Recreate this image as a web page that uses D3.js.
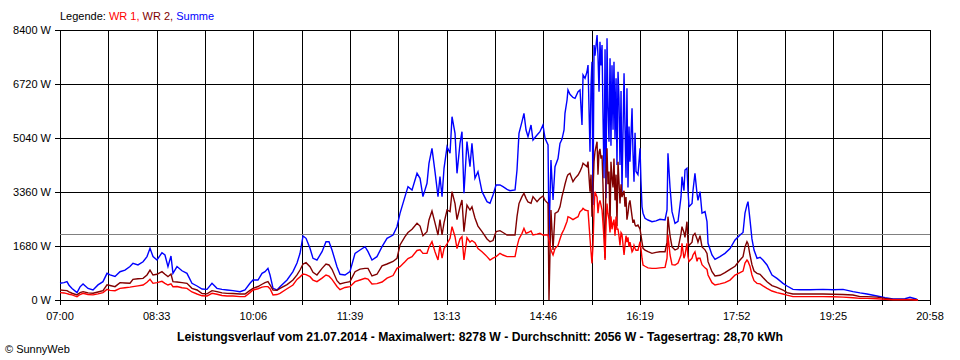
<!DOCTYPE html>
<html>
<head>
<meta charset="utf-8">
<script src="https://cdn.jsdelivr.net/npm/d3@7"></script>
<style>
  html, body { margin: 0; padding: 0; background: #fff; }
  svg { display: block; font-family: "Liberation Sans", Arial, sans-serif; }
</style>
</head>
<body>
<script>
// ---- data (time in minutes after midnight, power in W) ----
const times = [
420.0,423.9,426.7,428.7,431.6,436.4,439.3,442.2,447.0,451.8,456.6,461.4,465.3,468.2,473.0,477.8,482.6,487.4,490.3,495.1,
500.0,503.8,506.7,509.6,513.4,518.2,521.1,524.0,526.9,528.8,532.7,537.5,542.3,547.1,552.0,556.8,561.6,566.4,571.2,576.0,
580.9,586.6,593.4,598.2,603.0,605.9,610.7,614.6,617.5,620.3,622.3,625.2,629.0,631.9,638.7,644.4,648.3,651.2,654.1,657.0,
660.8,663.7,667.5,672.4,676.2,679.1,682.0,686.8,689.7,694.5,699.3,704.2,709.0,713.8,716.7,720.5,725.3,730.2,735.0,740.8,
744.6,747.5,752.3,755.2,759.1,763.9,766.8,769.6,773.5,775.4,778.3,781.2,784.1,786.0,788.0,789.9,792.8,795.7,797.6,800.5,
802.4,805.3,807.2,809.1,812.0,814.9,816.8,819.7,822.6,826.5,831.3,834.2,837.1,840.0,843.8,846.7,850.6,853.4,858.3,860.2,
862.1,865.0,866.9,868.9,870.8,873.7,875.6,879.5,882.3,885.2,887.2,890.1,891.0,892.9,894.9,896.8,899.7,901.6,903.5,905.5,
906.4,908.4,909.3,911.2,914.1,916.1,919.0,920.9,922.8,923.8,925.7,927.6,928.6,930.5,931.5,932.4,933.4,934.4,935.3,937.3,
938.2,939.2,940.1,941.1,942.1,943.0,944.0,945.0,945.9,946.9,947.8,948.8,949.8,950.7,951.7,952.7,953.6,954.6,955.6,956.5,
957.5,958.4,959.4,960.4,961.3,963.3,964.2,965.2,966.1,967.1,968.1,969.0,971.0,971.9,972.9,973.9,974.8,976.7,978.7,979.6,
980.6,981.6,983.5,986.4,990.2,994.1,997.9,1002.8,1004.7,1005.6,1007.6,1009.5,1012.4,1015.3,1018.2,1019.1,1021.0,1022.0,1023.9,1024.9,
1025.9,1028.8,1029.7,1031.6,1033.6,1034.5,1036.5,1038.4,1041.3,1043.2,1044.2,1048.0,1050.9,1055.7,1060.5,1065.4,1070.2,1075.0,1077.9,1079.8,
1081.7,1082.7,1084.6,1086.5,1088.5,1091.4,1094.3,1097.1,1101.0,1105.8,1110.6,1116.4,1120.3,1126.0,1132.8,1142.4,1154.9,1164.6,1174.2,1183.8,
1190.6,1197.3,1207.0,1214.7,1222.4,1233.9,1238.7,1244.5,1246.4
];

const summe = [
520,540,570,460,360,230,410,500,360,310,470,570,830,780,730,880,930,1040,1140,1090,
1190,1350,1610,1350,1244,1470,1400,1040,1370,830,1040,910,830,520,436,340,330,519,363,330,
311,290,259,311,519,622,622,830,882,985,778,363,311,415,622,882,1150,1452,1991,1919,
1607,1296,1244,1503,1814,1814,1555,1037,800,778,882,1452,1555,1659,1503,1244,1348,1659,1918,2022,
2281,2696,3215,3526,3422,3941,3786,3215,3630,4252,4719,3993,3215,3837,3215,4097,4770,4563,5703,5185,
3941,4874,5237,3319,4926,4148,4874,3786,3993,3370,3059,3008,3267,3578,3578,3526,3441,3400,3422,4044,
5185,5548,5808,5289,5081,5444,4978,5133,5237,5444,5030,4822,1860,4356,3111,4148,4400,4874,5000,5289,
5808,6222,6533,6400,6300,6274,6481,6533,5444,7000,6896,7100,7311,4615,6700,7415,2956,7933,7600,8244,
7600,6481,8037,7300,7933,5800,3785,7800,3163,8141,6000,4926,7519,4800,7300,5300,7415,5000,6900,4200,
7100,6300,4200,6500,3370,7052,5400,3800,6585,3500,5400,4300,5963,4600,3681,5200,4000,3900,4718,3700,
2900,2700,2541,2489,2437,2460,2510,2489,2800,4563,3500,2748,2385,2450,3215,3837,3400,4044,4100,3400,
2903,3000,3400,3941,3300,3100,3370,2700,2750,2437,1763,1400,1266,1350,1452,1600,1866,2022,2100,2700,
2960,3059,2500,1900,1555,1296,1327,1244,1089,778,674,519,436,332,320,320,332,320,332,259,
220,187,124,70,31,40,83,31,0
];

const wr2 = [
310,300,290,250,210,160,230,260,220,210,250,290,470,450,415,540,530,520,640,660,
674,780,930,778,800,882,800,726,809,570,560,540,519,363,311,200,190,290,260,220,
207,200,187,187,300,363,420,490,540,570,467,311,300,363,480,622,780,933,1120,1161,
1037,860,778,985,1120,1090,954,600,500,540,570,882,960,985,985,747,800,1060,1120,1200,
1296,1711,1970,2100,2200,2385,2300,2000,2126,2490,2769,2400,2022,2500,2022,2400,2800,2750,3370,3000,
2500,2900,3111,2126,2950,2800,2900,2550,2300,2126,1900,1814,1850,2126,2157,2100,2022,2022,2022,2592,
3000,3215,3319,3163,3050,3008,3215,3060,3163,3235,3100,3000,0,2800,1555,2696,2750,2900,3215,3474,
3600,3837,3900,3941,3681,3785,3889,4000,4148,4252,4200,4150,4304,3370,3900,2592,3370,4300,4615,4926,
3900,4600,4700,4400,4500,3600,2333,1296,3900,4719,3600,4000,2300,4300,3800,3500,4400,3100,3900,2300,
4300,3700,3000,3600,3200,3400,2900,3200,2500,2700,3000,3100,2600,2400,2500,2333,2300,2333,2200,2022,
1800,1607,1550,1503,1452,1480,1500,1503,1800,2592,2000,1650,1555,1600,2074,2281,2100,1950,2437,1800,
1700,1800,2000,2074,1900,1800,2000,1650,1560,1450,1192,882,747,770,850,950,1050,1244,1350,1650,
1814,1750,1400,1100,900,830,800,700,570,450,390,311,228,187,187,187,187,180,170,156,
104,104,90,50,21,20,20,10,0
];

const wr1 = [
230,220,200,180,160,100,170,210,170,160,190,230,330,300,290,360,380,400,415,440,
467,550,643,519,540,581,520,467,500,415,420,380,363,250,187,130,124,207,180,140,
124,124,104,104,230,311,350,400,415,415,350,156,170,207,350,467,640,720,809,790,
726,620,570,680,778,740,643,420,320,390,415,570,622,674,650,498,510,560,680,760,
985,1037,1192,1290,1350,1540,1560,1452,1452,1640,1814,1500,1244,1700,1300,1600,1750,1918,2281,1970,
1600,1900,1970,1244,1940,1800,1850,1780,1600,1503,1350,1244,1300,1348,1452,1400,1348,1348,1348,1659,
1900,2074,2230,2074,2100,2150,2022,2050,2074,2022,2022,2022,1866,1555,1400,1600,1700,1900,2074,2200,
2281,2450,2592,2560,2500,2541,2592,2750,2800,2850,2800,2780,2780,1918,1503,1141,1700,2800,3370,3200,
2700,3000,3100,2950,2800,2400,1900,1244,2300,3000,2700,2500,2100,2600,2200,2400,2500,2000,2600,2200,
2200,2000,1700,2100,2050,1400,1700,2000,1800,1950,1650,1800,1500,1550,1700,1600,1550,1550,1814,1600,
1300,1089,1050,1000,985,985,1000,1016,1300,2022,1400,1100,1089,1150,1400,1763,1300,1400,1763,1350,
1200,1300,1400,1500,1200,1300,1300,1100,1000,950,778,539,467,500,540,620,778,850,900,1150,
1244,1200,1050,780,600,519,500,440,363,280,230,187,150,104,104,104,104,100,90,70,
52,52,40,20,10,10,10,0,0
];

const xTickLabels = ["07:00","08:33","10:06","11:39","13:13","14:46","16:19","17:52","19:25","20:58"];
const yTicks = [0, 1680, 3360, 5040, 6720, 8400];
const avgValue = 2056;
const legendParts = [
  {text: "Legende: ", color: "#000000"},
  {text: "WR 1, ", color: "#ff0000"},
  {text: "WR 2, ", color: "#800000"},
  {text: "Summe", color: "#0000ff"}
];
const titleText = "Leistungsverlauf vom 21.07.2014 - Maximalwert: 8278 W - Durchschnitt: 2056 W - Tagesertrag: 28,70 kWh";
const creditText = "\u00A9 SunnyWeb";

// ---- chart ----
const W = 960, H = 360;
const plotLeft = 60, plotRight = 930, plotTop = 30, plotBottom = 300;
const tStart = 420, tEnd = 1258;

const svg = d3.select("body").append("svg").attr("width", W).attr("height", H);
svg.append("rect").attr("width", W).attr("height", H).attr("fill", "#fff");

const x = d3.scaleLinear().domain([tStart, tEnd]).range([plotLeft, plotRight]);
const y = d3.scaleLinear().domain([0, 8400]).range([plotBottom, plotTop]);
const snap = v => Math.round(v) + 0.5;

const grid = svg.append("g").attr("stroke", "#000").attr("stroke-width", 1).attr("shape-rendering", "crispEdges");
yTicks.forEach(v => {
  grid.append("line").attr("x1", plotLeft - 5).attr("x2", plotRight + 0.5)
    .attr("y1", snap(y(v))).attr("y2", snap(y(v)));
});
const nDiv = (xTickLabels.length - 1) * 2;
d3.range(nDiv + 1).forEach(i => {
  const t = tStart + i * (tEnd - tStart) / nDiv;
  grid.append("line").attr("x1", snap(x(t))).attr("x2", snap(x(t)))
    .attr("y1", plotTop).attr("y2", plotBottom + 5);
});

svg.append("g").selectAll("text").data(yTicks).join("text")
  .attr("x", 51).attr("y", d => y(d) + 4)
  .attr("text-anchor", "end").attr("font-size", 11).attr("fill", "#000")
  .text(d => d + " W");

svg.append("g").selectAll("text").data(xTickLabels).join("text")
  .attr("x", (d, i) => x(tStart + i * (tEnd - tStart) / (xTickLabels.length - 1)))
  .attr("y", 320)
  .attr("text-anchor", "middle").attr("font-size", 11).attr("fill", "#000")
  .text(d => d);

svg.append("line").attr("x1", plotLeft).attr("x2", plotRight)
  .attr("y1", snap(y(avgValue))).attr("y2", snap(y(avgValue)))
  .attr("stroke", "#808080").attr("stroke-width", 1).attr("shape-rendering", "crispEdges");

const series = [
  {values: summe, color: "#0000ff"},
  {values: wr2, color: "#800000"},
  {values: wr1, color: "#ff0000"}
];
const line = d3.line().x((d, i) => x(times[i])).y(d => y(d));
series.forEach(s => {
  svg.append("path").datum(s.values)
    .attr("d", line)
    .attr("fill", "none")
    .attr("stroke", s.color)
    .attr("stroke-width", 1.4)
    .attr("stroke-linejoin", "miter");
});

const leg = svg.append("text").attr("x", 60).attr("y", 20).attr("font-size", 11)
  .attr("style", "white-space: pre");
leg.selectAll("tspan").data(legendParts).join("tspan")
  .attr("fill", d => d.color).text(d => d.text);

svg.append("text").attr("x", 480).attr("y", 341)
  .attr("text-anchor", "middle").attr("font-size", 12).attr("font-weight", "bold")
  .attr("textLength", 606).attr("lengthAdjust", "spacingAndGlyphs")
  .text(titleText);

svg.append("text").attr("x", 5).attr("y", 353).attr("font-size", 11).text(creditText);
</script>
</body>
</html>
